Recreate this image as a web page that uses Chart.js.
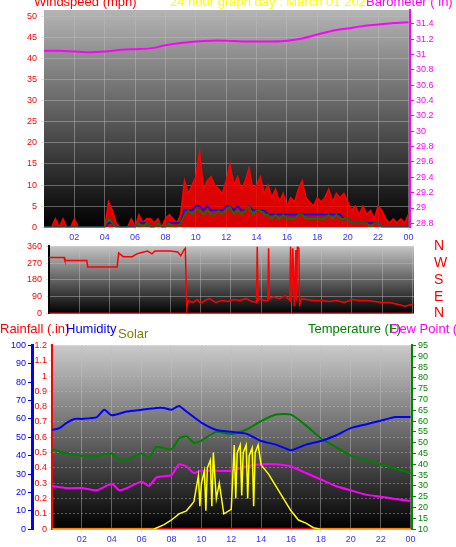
<!DOCTYPE html>
<html>
<head>
<meta charset="utf-8">
<script src="https://cdn.jsdelivr.net/npm/chart.js@4"></script>
<style>
  body { margin: 0; width: 456px; height: 547px; background: #fff; overflow: hidden; position: relative; font-family: "Liberation Sans", Arial, sans-serif; }
  canvas { position: absolute; left: 0; }
  .t { position: absolute; font-size: 13px; white-space: nowrap; line-height: 1; }
</style>
</head>
<body>
<canvas id="windChart" style="top:0" width="456" height="245"></canvas>
<canvas id="dirChart" style="top:226px" width="456" height="108"></canvas>
<canvas id="climChart" style="top:338px" width="456" height="209"></canvas>

<div class="t" style="left:34px;top:-5px;color:#f00">Windspeed (mph)</div>
<div class="t" style="left:170px;top:-5px;color:#ff0">24 hour graph day : March 01 202</div>
<div class="t" style="left:366px;top:-5px;color:#f0f">Barometer ( in)</div>
<div class="t" style="left:0;top:322px;color:#f00">Rainfall (.in)</div>
<div class="t" style="left:66px;top:322px;color:#00f">Humidity</div>
<div class="t" style="left:118px;top:327px;color:#808000">Solar</div>
<div class="t" style="left:308px;top:322px;color:#008000">Temperature (F)</div>
<div class="t" style="left:390px;top:322px;color:#f0f">Dew Point (</div>

<script>
// ---- data ----
const hourTicks = [2, 4, 6, 8, 10, 12, 14, 16, 18, 20, 22, 24];

// windspeed sampled every 15 minutes
const windGust = [0,0,0,2,0,2,0,0,2, 0,0,0,0,0,0,0,0, 6,4,1,0,0,0,2,0, 3,1,2,2,1,2,0,2, 3,2,1,3,
  11,8,10,12, 18,9,11,12, 10,9,8,11, 15,10,12,9, 11,14,9,10, 12,8,10,7, 9,6,8,5, 7,6,9,11,
  7,6,5,7, 6,7,9,6, 8,7,8,6, 4,5,3,5, 3,4,2,5, 4,2,1,2, 1,2,1,3];
const windAvg = [0,0,0,0,0,0,0,0,0, 0,0,0,0,0,0,0,0, 2,1,0,0,0,0,0,0, 1,0,1,0,0,1,0,0, 1,0,0,1,
  3,4,3,4, 4,3,4,3, 3,4,3,4, 5,3,4,3, 4,5,3,4, 4,3,3,2, 3,2,3,2, 2,2,3,3,
  2,2,2,2, 2,2,3,2, 3,2,2,2, 1,1,1,1, 1,0,1,1, 0,0,0,0, 0,0,0,0];
const windMid = [0,0,0,0,0,0,0,0,0, 0,0,0,0,0,0,0,0, 1,1,0,0,0,0,0,0, 1,1,1,0,0,1,0,0, 1,1,1,1,
  4,4,4,5, 5,4,5,4, 4,4,4,5, 5,4,5,4, 4,5,4,4, 4,4,3,3, 3,3,3,3, 3,3,3,3,
  3,3,3,3, 3,3,3,3, 3,3,2,2, 1,1,1,1, 1,1,1,1, 0,0,0,0, 0,0,0,0];

const baroTimes = [0,1,2,3,4,5,6,7,8,9,10,11,12,13,14,15,16,17,18,19,20,21,22,23,24];
const baroValues = [31.05,31.05,31.04,31.03,31.04,31.06,31.07,31.08,31.12,31.15,31.17,31.18,31.18,
  31.17,31.17,31.17,31.18,31.21,31.26,31.31,31.34,31.37,31.39,31.41,31.42];
const windTicks = [0,5,10,15,20,25,30,35,40,45,50];
const baroTicks = [28.8,29,29.2,29.4,29.6,29.8,30,30.2,30.4,30.6,30.8,31,31.2,31.4];

const dirTimes = [0,1,1.05,2.5,2.55,4.5,4.6,4.9,5.0,5.5,5.8,6.0,6.5,6.8,7.0,7.2,7.5,8.0,8.5,8.7,8.9,9.0,9.1,9.2,
  9.5,9.8,10.0,10.3,10.6,11.0,11.4,11.8,12.2,12.6,13.0,13.4,13.7,13.75,13.8,13.9,14.2,14.45,14.5,14.55,14.8,
  15.2,15.6,15.9,15.95,16.0,16.1,16.2,16.3,16.35,16.4,16.5,16.55,16.6,16.7,17.0,17.5,18.0,18.5,19.0,19.5,
  20.0,20.5,21.0,21.5,22.0,22.5,23.0,23.5,24.0];
const dirValues = [300,300,285,285,250,250,325,305,305,305,320,325,335,320,335,335,335,335,330,310,340,350,30,70,
  60,75,55,70,80,60,70,65,75,70,80,65,60,360,70,80,70,70,350,80,90,
  80,95,70,360,60,350,40,340,70,360,350,40,70,80,75,70,70,65,70,60,
  75,70,70,65,60,60,50,40,50];
const dirTicks = [0,90,180,270,360];
const compass = ['N','E','S','W','N'];

const humTimes = [0,0.5,1,1.5,2,3,3.5,4,5,6,7,7.5,8,8.5,9,10,11,12,13,14,15,16,17,18,19,20,21,22,23,24];
const humValues = [54,55,58,60,60,61,65,62,64,65,66,66,65,67,64,58,54,53,52,48,46,43,46,48,51,55,57,59,61,61];
const tempTimes = [0,1,2,3,4,4.5,5,6,6.5,7,8,8.5,9,9.5,10,11,12,13,14,15,16,17,18,19,20,21,22,23,24];
const tempValues = [47,45,44,44,45,42,42,45,43,48,47,52,53,50,51,55,54,56,60,63,63,58,52,48,44,42,40,38,36];
const dewValues = [30,29,29,28,31,28,29,32,30,34,35,40,39,36,37,37,37,39,40,40,39,36,33,30,28,26,25,24,23];
const solarTimes = [0,6.8,7.5,8,8.5,9,9.5,9.8,9.9,10,10.2,10.3,10.4,10.6,10.7,10.8,11,11.2,11.5,12,12.2,12.3,12.4,12.6,12.7,12.8,13,
  13.1,13.2,13.4,13.5,13.6,13.8,14,14.5,15,15.5,16,16.5,17,17.5,18,24];
const solarValues = [0,0,0.03,0.06,0.1,0.12,0.18,0.35,0.15,0.3,0.38,0.12,0.4,0.45,0.15,0.5,0.2,0.3,0.1,0.13,0.55,0.2,0.5,0.55,0.22,0.5,0.55,
  0.2,0.48,0.53,0.15,0.5,0.55,0.42,0.36,0.28,0.2,0.12,0.06,0.04,0.01,0,0];
const rainTimes = [0,24];
const rainValues = [0,0];
const humTicks = [0,10,20,30,40,50,60,70,80,90,100];
const rainTicks = [0,0.1,0.2,0.3,0.4,0.5,0.6,0.7,0.8,0.9,1,1.1,1.2];
const tempTicks = [10,15,20,25,30,35,40,45,50,55,60,65,70,75,80,85,90,95];

// ---- helpers ----
const FONT = { family: 'Liberation Sans', size: 9 };
const pts = (xs, ys) => xs.map((x, i) => ({ x: x, y: ys[i] }));
const fixTicks = list => scale => { scale.ticks = list.map(v => ({ value: v })); };
const fixWidth = w => scale => { scale.width = w; };
const pad2 = v => (v % 24 < 10 ? '0' : '') + (v % 24);

const plotBg = {
    id: 'plotBg',
    beforeDraw(chart, args, opts) {
        const { ctx, chartArea: a } = chart;
        ctx.save();
        const g = ctx.createLinearGradient(0, a.top, 0, a.bottom);
        g.addColorStop(0, opts.top || '#bdbdbd');
        g.addColorStop(1, '#000');
        ctx.fillStyle = g;
        ctx.fillRect(a.left, a.top, a.right - a.left, a.bottom - a.top);
        ctx.restore();
    }
};
Chart.register(plotBg);

const gridOpts = { color: 'rgba(190,190,190,0.45)', lineWidth: 1, tickLength: 3 };
const baseOpts = {
    responsive: false,
    animation: false,
    events: [],
    plugins: { legend: { display: false }, tooltip: { enabled: false } },
    elements: { point: { radius: 0 }, line: { tension: 0, borderWidth: 2 } }
};

function xAxis(display) {
    return {
        type: 'linear', min: 0, max: 24.1,
        afterBuildTicks: fixTicks(hourTicks),
        grid: Object.assign({ display: true }, gridOpts, { drawTicks: display }),
        border: { display: false },
        ticks: { display: display, color: '#33f', font: FONT, callback: pad2, maxRotation: 0, autoSkip: false, padding: 2 }
    };
}

// ---- windspeed / barometer ----
const windTimes = windGust.map((v, i) => i * 0.25);
new Chart(document.getElementById('windChart'), {
    type: 'line',
    data: {
        datasets: [
            { data: pts(windTimes, windAvg), borderColor: '#008000', yAxisID: 'wind', borderWidth: 1.5 },
            { data: pts(windTimes, windMid), borderColor: '#0000ff', yAxisID: 'wind', borderWidth: 1.5 },
            { data: pts(windTimes, windGust), borderColor: '#ff0000', backgroundColor: 'rgba(255,0,0,0.85)', fill: 'origin', yAxisID: 'wind', borderWidth: 1.5 },
            { data: pts(baroTimes, baroValues), borderColor: '#ff00ff', yAxisID: 'baro', tension: 0.3 }
        ]
    },
    options: Object.assign({}, baseOpts, {
        layout: { padding: { top: 10, right: 0, bottom: 0, left: 0 } },
        plugins: Object.assign({}, baseOpts.plugins, { plotBg: { top: '#b4b4b4' } }),
        scales: {
            x: xAxis(true),
            wind: {
                position: 'left', min: 0, max: 51.5,
                afterBuildTicks: fixTicks(windTicks), afterFit: fixWidth(44),
                grid: Object.assign({}, gridOpts),
                border: { display: false },
                ticks: { color: '#f00', font: FONT, padding: 4, autoSkip: false }
            },
            baro: {
                position: 'right', min: 28.75, max: 31.58,
                afterBuildTicks: fixTicks(baroTicks), afterFit: fixWidth(46),
                grid: { drawOnChartArea: false, color: '#f0f', tickLength: 4 },
                border: { color: '#f0f', width: 2, dash: [2, 2] },
                ticks: { color: '#f0f', font: FONT, autoSkip: false, callback: v => String(Math.round(v * 10) / 10), padding: 2 }
            }
        }
    })
});

// ---- wind direction ----
new Chart(document.getElementById('dirChart'), {
    type: 'line',
    data: {
        datasets: [
            { data: pts(dirTimes, dirValues), borderColor: '#ff0000', yAxisID: 'dir', borderWidth: 1.5 },
            { data: pts([0, 24], [0, 0]), borderColor: '#e00000', yAxisID: 'dir', borderWidth: 2 }
        ]
    },
    options: Object.assign({}, baseOpts, {
        layout: { padding: 0 },
        plugins: Object.assign({}, baseOpts.plugins, { plotBg: { top: '#c4c4c4' } }),
        scales: {
            x: xAxis(false),
            dir: {
                position: 'left', min: 0, max: 360,
                afterBuildTicks: fixTicks(dirTicks), afterFit: fixWidth(49),
                grid: Object.assign({}, gridOpts),
                border: { color: '#000', width: 2 },
                ticks: { color: '#f00', font: FONT, padding: 4, autoSkip: false }
            },
            compass: {
                position: 'right', min: 0, max: 360,
                afterBuildTicks: fixTicks(dirTicks), afterFit: fixWidth(42),
                grid: { display: false },
                border: { display: false },
                ticks: { color: '#f00', autoSkip: false, font: { family: 'Liberation Sans', size: 14 }, padding: 12, callback: (v) => compass[dirTicks.indexOf(v)] }
            }
        }
    })
});

// ---- rainfall / humidity / solar / temperature ----
new Chart(document.getElementById('climChart'), {
    type: 'line',
    data: {
        datasets: [
            { data: pts(solarTimes, solarValues), borderColor: '#ffff00', yAxisID: 'rain', borderWidth: 1.5 },
            { data: pts(rainTimes, rainValues), borderColor: '#ff0000', yAxisID: 'rain', borderWidth: 3 },
            { data: pts(humTimes, humValues), borderColor: '#0000ff', yAxisID: 'hum', tension: 0.2 },
            { data: pts(tempTimes, tempValues), borderColor: '#008000', yAxisID: 'temp', tension: 0.2 },
            { data: pts(tempTimes, dewValues), borderColor: '#ff00ff', yAxisID: 'temp', tension: 0.2 }
        ]
    },
    options: Object.assign({}, baseOpts, {
        layout: { padding: { top: 6, right: 0, bottom: 0, left: 0 } },
        plugins: Object.assign({}, baseOpts.plugins, { plotBg: { top: '#cacaca' } }),
        scales: {
            x: xAxis(true),
            rain: {
                position: 'left', min: 0, max: 1.2,
                afterBuildTicks: fixTicks(rainTicks), afterFit: fixWidth(20),
                grid: Object.assign({}, gridOpts),
                border: { color: '#f00', width: 2, dash: [2, 2] },
                ticks: { color: '#f00', font: FONT, padding: 2, autoSkip: false, callback: v => String(Math.round(v * 10) / 10) }
            },
            hum: {
                position: 'left', min: 0, max: 100,
                afterBuildTicks: fixTicks(humTicks), afterFit: fixWidth(32),
                grid: { drawOnChartArea: false, color: '#00f', tickLength: 4 },
                border: { color: '#00f', width: 3 },
                ticks: { color: '#00f', font: FONT, padding: 2, autoSkip: false }
            },
            temp: {
                position: 'right', min: 10, max: 95,
                afterBuildTicks: fixTicks(tempTicks), afterFit: fixWidth(44),
                grid: { drawOnChartArea: false, color: '#080', tickLength: 4 },
                border: { color: '#080', width: 2, dash: [2, 2] },
                ticks: { color: '#080', font: FONT, padding: 2, autoSkip: false }
            }
        }
    })
});
</script>
</body>
</html>
